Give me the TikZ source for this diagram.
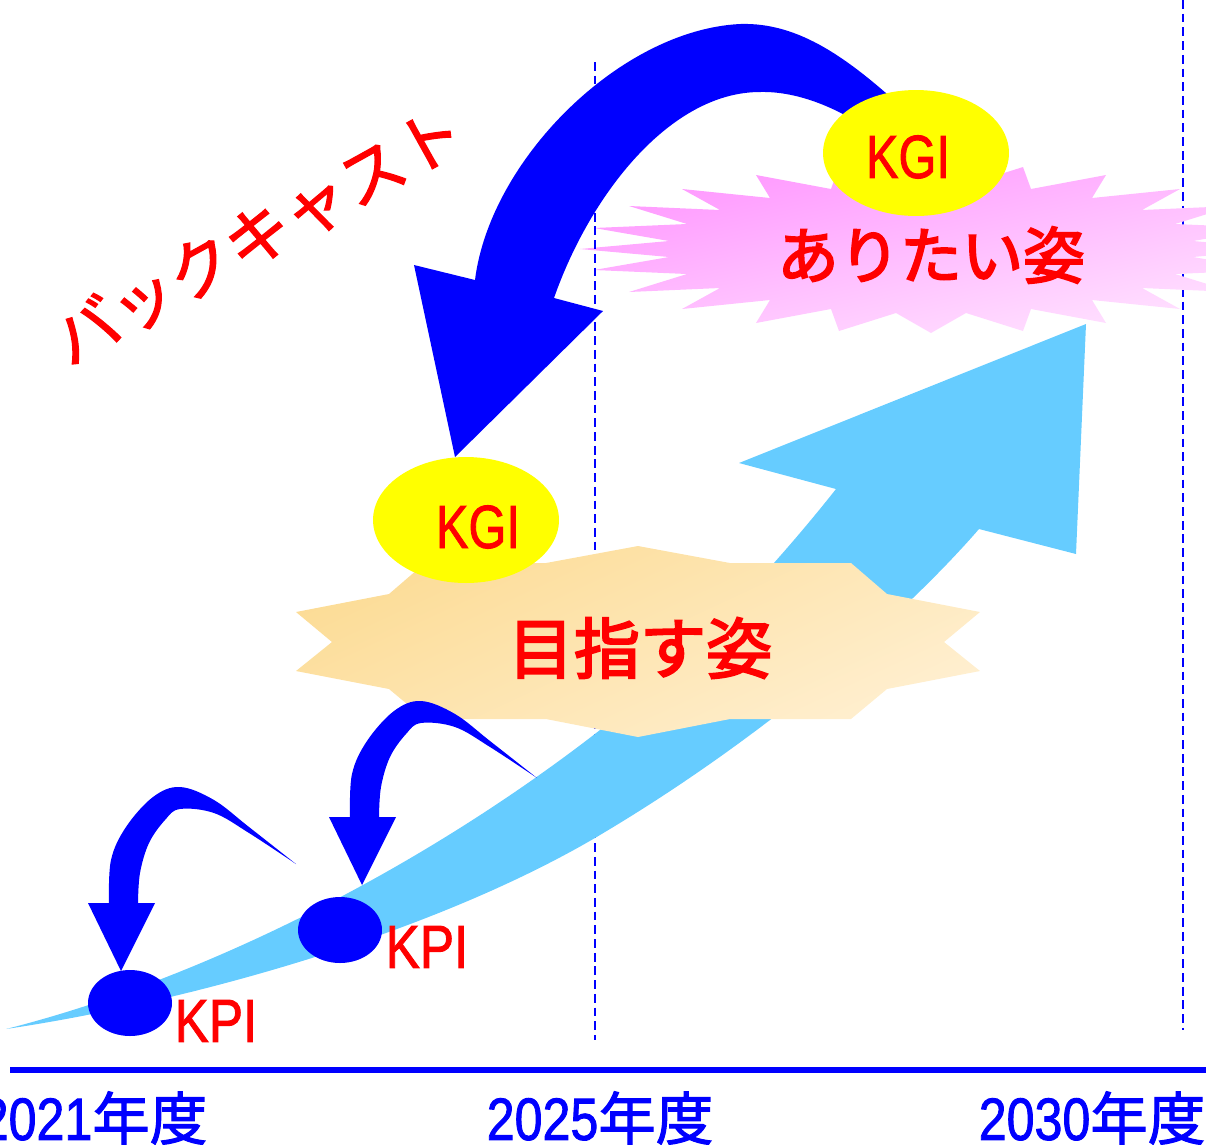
\documentclass[tikz,border=0pt]{standalone}
\usepackage{fontspec}
\usepackage{graphicx}
\setmainfont{Liberation Sans}
\newfontfamily\lat{Liberation Sans}[FakeBold=1.6]
\newfontfamily\jp{Noto Sans CJK JP}[FakeBold=1.8]
\newfontfamily\jpb{Noto Sans CJK JP}[FakeBold=3.2]
\usetikzlibrary{shapes.geometric}
\definecolor{lblue}{RGB}{102,204,255}
\definecolor{pblue}{RGB}{0,0,255}
\definecolor{kred}{RGB}{255,0,0}
\definecolor{kyellow}{RGB}{255,255,0}
\definecolor{pinkA}{RGB}{255,150,255}
\definecolor{pinkB}{RGB}{255,228,255}
\definecolor{goldA}{RGB}{252,220,150}
\definecolor{goldB}{RGB}{255,239,208}
\newcommand{\nrw}[1]{\scalebox{0.84}[1]{#1}}
\begin{document}
\begin{tikzpicture}[x=0.02cm,y=-0.02cm,
  dashline/.style={pblue, line width=1.1pt, dash pattern=on 5pt off 2.8pt},
  kgi/.style={ellipse, fill=kyellow, minimum width=3.72cm, minimum height=2.52cm, inner sep=0pt},
  kpidot/.style={ellipse, fill=pblue, minimum width=1.68cm, minimum height=1.32cm, inner sep=0pt},
  lbl/.style={text=kred, inner sep=0pt, font=\lat\fontsize{34.7}{40}\selectfont},
  yearlbl/.style={text=pblue, inner sep=0pt},
  hookarrow/.pic={
    \fill[pblue] plot[smooth,tension=0.6] coordinates {(296,864) (249,827) (214,800) (180,787) (153,797) (126,827) (111,860) (109,903)}
      -- (88,903) -- (121,971) -- (155,903) -- (138,903)
      -- plot[smooth,tension=0.6] coordinates {(138,903) (140,873) (149,843) (165,820) (180,809) (214,813) (249,833) (296,864)} -- cycle;
  }]
\useasboundingbox (0,0) rectangle (1206,1144);
\clip (0,0) rectangle (1206,1144);

% right dashed line (behind the pink burst)
\draw[dashline] (1183,0) -- (1183,1030);

% pink burst
\begin{scope}[shift={(931,249)}]
\shade[top color=pinkA, bottom color=pinkB, shading angle=12]
 (0,-84) -- (35,-64) -- (92,-82) -- (100,-60) -- (175,-74) -- (161,-51) -- (249,-60) -- (211,-39) -- (302,-43) -- (244,-25) -- (337,-21) -- (262,-8) -- (351,0) -- (262,8) -- (337,21) -- (244,25) -- (302,43) -- (211,39) -- (249,60) -- (161,51) -- (175,74) -- (100,60) -- (92,82) -- (35,64) -- (0,84)
 -- (-35,64) -- (-92,82) -- (-100,60) -- (-175,74) -- (-161,51) -- (-249,60) -- (-211,39) -- (-302,43) -- (-244,25) -- (-337,21) -- (-262,8) -- (-351,0) -- (-262,-8) -- (-337,-21) -- (-244,-25) -- (-302,-43) -- (-211,-39) -- (-249,-60) -- (-161,-51) -- (-175,-74) -- (-100,-60) -- (-92,-82) -- (-35,-64) -- cycle;
\end{scope}

% middle dashed line
\draw[dashline] (595,62) -- (595,1040);

% light blue growth arrow
\fill[lblue] (6,1029) .. controls (200,980) and (420,870) .. (600,730)
  .. controls (690,660) and (780,560) .. (836,489)
  -- (739,463) -- (1086,324) -- (1076,554) -- (979,529)
  .. controls (900,620) and (760,740) .. (600,835)
  .. controls (440,930) and (200,1000) .. (6,1029) -- cycle;

% gold burst
\begin{scope}[shift={(638,642)}]
\shade[top color=goldA, bottom color=goldB, shading angle=25]
 (0,-96) -- (92,-79) -- (213,-79) -- (249,-48) -- (342,-30) -- (306,0) -- (342,29) -- (249,47) -- (213,77) -- (92,77) -- (0,95) -- (-92,77) -- (-213,77) -- (-249,47) -- (-342,29) -- (-306,0) -- (-342,-30) -- (-249,-48) -- (-213,-79) -- (-92,-79) -- cycle;
\end{scope}

% big backcast arrow
\fill[pblue] (905,110) .. controls (850,60) and (800,22) .. (740,24)
  .. controls (620,30) and (490,160) .. (475,280)
  -- (414,265) -- (455,457) -- (603,311) -- (554,298)
  .. controls (590,195) and (670,92) .. (760,92)
  .. controls (800,91) and (840,110) .. (870,130) -- cycle;

% KGI ellipses
\node[kgi] (kgitop) at (916,153) {};
\node[kgi] (kgimid) at (466,520) {};

% small hook arrows
\pic at (0,0) {hookarrow};
\pic at (241,-86) {hookarrow};

% KPI dots
\node[kpidot] (kpione) at (130,1003) {};
\node[kpidot] (kpitwo) at (340,930) {};

% axis
\draw[pblue, line width=3.4pt] (10,1070) -- (1206,1070);

% texts
\node[lbl] (tkgitop) at (908,157) {\scalebox{0.8}[1]{KGI}};
\node[lbl] (tkgimid) at (478,527) {\scalebox{0.8}[1]{KGI}};
\node[lbl] (tkpione) at (216,1021) {\scalebox{0.84}[1]{KPI}};
\node[lbl] (tkpitwo) at (427,947) {\scalebox{0.84}[1]{KPI}};

\node[text=kred, inner sep=0pt, font=\jpb\fontsize{35}{40}\selectfont] (arita) at (931,255) {ありたい姿};
\node[text=kred, inner sep=0pt, font=\jpb\fontsize{37.6}{42}\selectfont] (mezasu) at (640,648) {目指す姿};
\node[text=kred, inner sep=0pt, rotate=29, font=\jp\fontsize{37.2}{42}\selectfont] (back) at (258,236) {バックキャスト};

\node[yearlbl] (y2021) at (94,1118) {\lat\fontsize{34}{40}\selectfont\nrw{2021}\jp\fontsize{32.7}{40}\selectfont 年度};
\node[yearlbl] (y2025) at (600,1118) {\lat\fontsize{34}{40}\selectfont\nrw{2025}\jp\fontsize{32.7}{40}\selectfont 年度};
\node[yearlbl] (y2030) at (1092,1118) {\lat\fontsize{34}{40}\selectfont\nrw{2030}\jp\fontsize{32.7}{40}\selectfont 年度};
\end{tikzpicture}
\end{document}
